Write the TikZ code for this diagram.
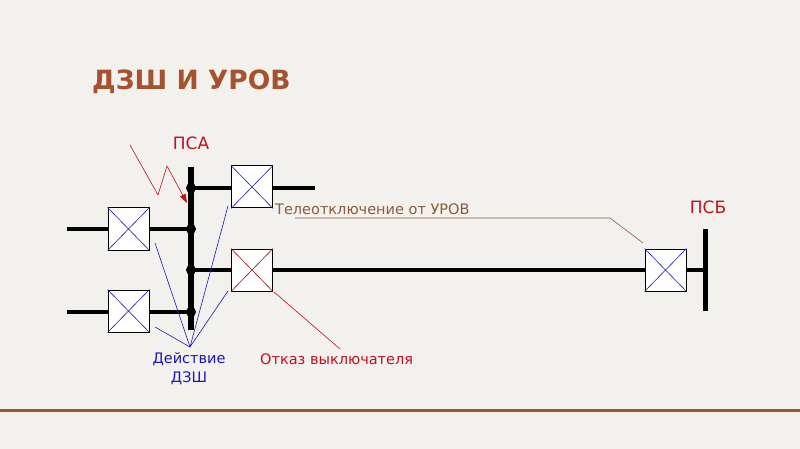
\documentclass[tikz,border=0pt]{standalone}
\usepackage{fontspec}
\setmainfont{DejaVu Sans}
\usetikzlibrary{arrows.meta}
\definecolor{bg}{HTML}{F3F1EE}
\definecolor{ttl}{HTML}{A4532E}
\definecolor{rd}{HTML}{C0101A}
\definecolor{bl}{HTML}{1A1AB0}
\definecolor{br}{HTML}{8B5A3C}
\begin{document}
\begin{tikzpicture}[x=1pt,y=-1pt,
  brk/.style={draw=black,fill=white,line width=1pt,minimum width=41pt,minimum height=42pt,inner sep=0pt},
  wire/.style={line width=4pt},
  dot/.style={circle,fill=black,inner sep=0pt,minimum size=10pt},
  lbl/.style={font=\fontsize{14.5}{17}\selectfont,inner sep=0pt}]
\fill[bg] (0,0) rectangle (800,449);
\useasboundingbox (0,0) rectangle (800,449);
\draw[ttl,line width=3pt] (0,410) -- (800,410);
\node[anchor=west,text=ttl,font=\bfseries\fontsize{26.5}{30}\selectfont,inner sep=0pt] (title) at (92,82) {ДЗШ И УРОВ};
% junctions
\coordinate (j1) at (191,188);
\coordinate (j2) at (191,229);
\coordinate (j3) at (191,270);
\coordinate (j4) at (191,312);
\coordinate (e1) at (315,188);
\coordinate (e2) at (67,229);
\coordinate (e3) at (67,312);
\draw[wire] (j1) -- (e1);
\draw[wire] (e2) -- (j2);
\draw[wire] (e3) -- (j4);
\draw[wire] (j3) -- (705,270);
% buses
\draw[line width=6pt] (191,167) coordinate (busT) -- (191,330) coordinate (busB);
\draw[line width=5pt] (705,229) coordinate (psbT) -- (705,311) coordinate (psbB);
\foreach \j in {j1,j2,j3,j4} \node[dot] at (\j) {};
\node[lbl,text=rd,font=\fontsize{17}{20}\selectfont] (psa) at (191,143) {ПСА};
\node[lbl,text=rd,font=\fontsize{17}{20}\selectfont] (psb) at (708,207) {ПСБ};
% breakers
\node[brk] (b1) at (252,187) {};
\node[brk] (b2) at (128.5,229) {};
\node[brk] (b3) at (128.5,311) {};
\node[brk] (b4) at (252,270) {};
\node[brk] (b5) at (665.5,270) {};
\foreach \b in {b1,b2,b3,b5}{
  \draw[bl,line width=0.6pt] (\b.north west) -- (\b.south east) (\b.north east) -- (\b.south west);}
\draw[rd!80!black,line width=0.6pt] (b4.north west) -- (b4.south east) (b4.north east) -- (b4.south west);
% lightning
\draw[rd,line width=0.6pt,-{Triangle[length=9pt,width=6pt]}] (130,145) -- (158,195) -- (167,166) -- (187,203);
% DZSh
\node[lbl,text=bl,align=center,font=\fontsize{14.5}{19}\selectfont] (dz) at (189,369) {Действие\\ДЗШ};
\coordinate (c) at (190,347);
\draw[bl,line width=0.6pt] (155,243) -- (c) -- (228,206) (155,327) -- (c) -- (228,291);
% fail
\node[lbl,text=rd,anchor=west] (ot) at (260,359) {Отказ выключателя};
\draw[rd,line width=0.6pt] (274,292) -- (340,349);
% tele
\node[lbl,text=br,anchor=west] (tel) at (275,209) {Телеотключение от УРОВ};
\draw[br,line width=0.6pt] (295,218) -- (610,218) -- (643,243);
\end{tikzpicture}
\end{document}
